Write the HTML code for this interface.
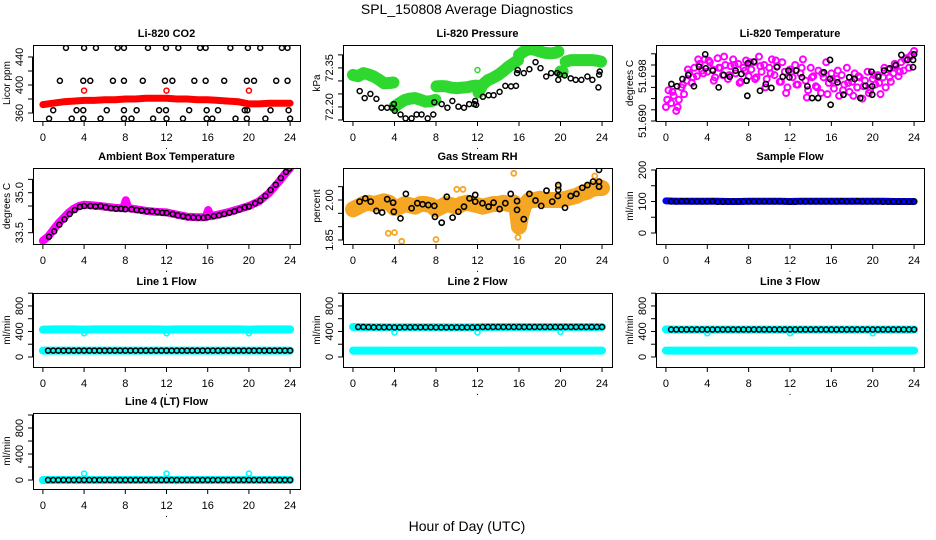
<!DOCTYPE html>
<html><head><meta charset="utf-8"><title>SPL_150808 Average Diagnostics</title>
<style>
html,body{margin:0;padding:0;background:#fff;}
svg{display:block;font-family:"Liberation Sans",Arial,sans-serif;}
</style></head>
<body>
<svg id="chart" width="936" height="540" viewBox="0 0 936 540" xmlns="http://www.w3.org/2000/svg">
<rect x="0" y="0" width="936" height="540" fill="#fff"/>
<text x="467" y="14" font-size="14" text-anchor="middle">SPL_150808  Average Diagnostics</text>
<text x="467" y="531" font-size="14" text-anchor="middle">Hour of Day (UTC)</text>
</svg>
<script>
// ---------- DATA ----------
const xTicks = [0,4,8,12,16,20,24];

// Li-820 CO2
const co2RedHours = [0,1,2,3,4,5,6,7,8,9,10,11,12,13,14,15,16,17,18,19,20,21,22,23,24];
const co2RedVals = [372,374,376,377,378,378,379,379,380,380,381,381,381,380,380,379,379,378,377,376,373,373,374,374,374];
const co2RedOutHours = [4,12,20];
const co2RedOutVals = [392,392,392];
const co2BlackHours = [2.24,4.0,5.15,7.26,7.87,10.2,11.95,13.15,15.26,15.8,18.2,19.9,21.1,23.2,23.75,
 1.65,3.92,4.6,6.8,7.87,9.7,11.85,12.57,14.7,15.8,17.6,19.8,20.5,22.65,23.75,
 1.0,3.27,3.92,6.2,7.87,9.1,11.28,11.95,14.2,15.9,17.0,19.6,19.85,22.1,23.85,
 0.6,2.8,3.92,5.6,7.87,8.6,10.7,12.0,13.6,15.9,16.45,18.7,19.8,21.6,24.0];
const co2BlackVals = [453,453,453,453,453,453,453,453,453,453,453,453,453,453,453,
 406,406,406,406,406,406,406,406,406,406,406,406,406,406,406,
 364,364,364,364,364,364,364,364,364,364,364,364,364,364,364,
 352,352,352,352,352,352,352,352,352,352,352,352,352,352,352];

// Li-820 Pressure
const presGreenHours = [0,0.5,1,1.5,2,2.5,3,3.5,3.9,null,4.0,4.5,5,5.5,6,6.5,7,7.5,7.95,null,8.05,8.5,9,9.5,10,10.5,11,11.5,11.9,null,12.1,12.5,13,13.5,14,14.5,15,15.5,15.9,null,16.0,16.5,17,17.5,18,18.5,19,19.5,19.8,null,20.0,20.2,null,20.5,21,21.5,22,22.5,23,23.5,23.9];
const presGreenVals = [72.323,72.318,72.330,72.325,72.317,72.305,72.291,72.292,72.294,null,72.201,72.215,72.227,72.232,72.234,72.228,72.220,72.222,72.227,null,72.279,72.280,72.279,72.274,72.272,72.274,72.276,72.280,72.282,null,72.256,72.286,72.303,72.312,72.323,72.338,72.355,72.368,72.380,null,72.400,72.414,72.423,72.420,72.413,72.408,72.406,72.408,72.413,null,72.336,72.336,null,72.374,72.380,72.380,72.380,72.380,72.380,72.378,72.374];
const presBlackHours = [0.65,1.13,1.68,2.26,2.74,3.29,3.78,3.94,4.03,4.58,5.07,5.65,6.13,6.61,7.2,7.74,7.84,8.55,9.1,9.58,10.16,10.7,11.2,11.68,11.78,11.87,12.52,13.07,13.55,14.13,14.68,15.23,15.71,15.81,15.88,16.46,17.0,17.59,18.07,18.62,19.1,19.68,19.78,19.91,20.4,20.98,21.46,22.01,22.59,23.07,23.65,23.72,23.78];
const presBlackVals = [72.261,72.234,72.250,72.231,72.197,72.197,72.197,72.211,72.185,72.171,72.156,72.156,72.171,72.171,72.156,72.171,72.218,72.211,72.197,72.223,72.201,72.197,72.211,72.211,72.223,72.208,72.239,72.245,72.245,72.258,72.281,72.279,72.281,72.330,72.342,72.330,72.345,72.372,72.349,72.317,72.330,72.330,72.304,72.324,72.321,72.310,72.304,72.304,72.317,72.304,72.275,72.324,72.336];

// Li-820 Temperature
const tempMagA = [51.6925,51.6955,51.6932,51.6945,51.6918,51.6938,51.6960,51.6948,51.6972,
 51.6985,51.6968,51.6995,51.6980,51.7002,51.6990,51.7010,51.6988,
 51.7005,51.6992,51.6978,51.7012,51.6995,51.6982,51.7000,51.6975,
 51.6998,51.7010,51.6985,51.7002,51.6970,51.6995,51.7008,51.6980,
 51.6992,51.7005,51.6978,51.7015,51.6988,51.7000,51.6975,51.6995,
 51.7010,51.6982,51.6998,51.6970,51.7005,51.6988,51.6960,51.6992,
 51.6978,51.7000,51.6965,51.6985,51.7010,51.6972,51.6955,51.6995,
 51.6980,51.6962,51.6990,51.6950,51.6978,51.7005,51.6968,51.6985,
 51.6958,51.6975,51.6945,51.6982,51.6965,51.6995,51.6952,51.6970,
 51.6985,51.6960,51.6978,51.6940,51.6972,51.6988,51.6955,51.6975,
 51.6965,51.6982,51.6948,51.6978,51.6960,51.6992,51.6970,51.6985,
 51.6998,51.6980,51.7005,51.6990,51.7012,51.6995,51.7018,51.7025];
const tempMagB = [51.6938,51.6952,51.6925,51.6965,51.6992,51.6978,51.7010,51.6985,51.7008,51.6972,51.6995,51.7015,51.6982,51.7000,51.6968,51.6990,51.7005,51.6975,51.6998,51.6960,51.6985,51.7008,51.6970,51.6950,51.6988,51.6965,51.6995,51.6942,51.6978,51.6960,51.6985,51.6948,51.6972,51.6990,51.6955,51.6968,51.6945,51.6980,51.6962,51.6950,51.6982,51.6968,51.6995,51.6978,51.7002,51.6988,51.7010,51.7015];
const tempBlackHours = [0.53,1.07,1.6,2.16,2.71,3.2,3.8,3.85,4.54,5.1,5.58,6.17,6.73,7.3,7.8,7.87,7.93,8.52,9.1,9.66,10.2,10.74,11.3,11.85,11.94,12.6,13.15,13.68,14.14,14.72,15.28,15.87,15.87,15.93,16.6,17.17,17.73,18.25,18.8,19.3,19.88,19.95,19.95,20.54,21.1,21.64,22.23,22.77,23.36,23.9,23.9,24.0];
const tempBlackVals = [51.6966,51.6962,51.6975,51.6982,51.6962,51.6997,51.7019,51.6994,51.6990,51.6960,51.6982,51.6979,51.6990,51.6984,51.6972,51.6945,51.7003,51.7006,51.6954,51.6966,51.6959,51.6996,51.6979,51.6990,51.6978,51.6990,51.6978,51.6962,51.6941,51.6941,51.6987,51.7009,51.6975,51.6929,51.6969,51.6947,51.6978,51.6975,51.6941,51.6963,51.6988,51.6962,51.6947,51.6979,51.6990,51.6994,51.7000,51.7018,51.7009,51.7009,51.6996,51.7019];

// Ambient Box Temperature
const ambMagHours = [0,0.5,1,1.5,2,2.5,3,3.5,4,5,6,7,7.8,8.05,8.3,9,10,11,12,13,14,15,15.8,16.05,16.3,17,18,19,20,21,22,23,23.5,24];
const ambMagVals = [33.2,33.35,33.6,33.85,34.05,34.25,34.4,34.5,34.55,34.52,34.48,34.43,34.42,34.72,34.42,34.38,34.32,34.28,34.26,34.18,34.1,34.08,34.08,34.35,34.12,34.18,34.27,34.38,34.5,34.68,35.0,35.45,35.7,35.92];
const ambBlackHours = [0.6,1.1,1.6,2.1,2.6,3.1,3.6,4.0,4.6,5.1,5.6,6.1,6.6,7.1,7.6,8.0,8.6,9.1,9.6,10.1,10.6,11.1,11.6,12.0,12.6,13.1,13.6,14.1,14.6,15.1,15.6,16.0,16.6,17.1,17.6,18.1,18.6,19.1,19.6,20.0,20.6,21.1,21.6,22.1,22.6,23.1,23.6,23.9];
const ambBlackVals = [33.35,33.55,33.8,34.0,34.2,34.35,34.47,34.5,34.5,34.48,34.5,34.45,34.42,34.4,34.4,34.38,34.38,34.35,34.33,34.3,34.3,34.28,34.25,34.24,34.2,34.15,34.12,34.08,34.07,34.06,34.06,34.08,34.12,34.15,34.2,34.25,34.3,34.37,34.45,34.48,34.6,34.7,34.88,35.1,35.3,35.55,35.78,35.9];

// Gas Stream RH
const rhOrangeHours = [0,0.5,1,1.5,2,2.5,3,3.5,4,4.5,5,5.5,6,6.5,7,7.5,8,8.5,9,9.5,10,10.5,11,11.5,12,12.5,13,13.5,14,14.5,15,15.5,15.8,16,16.2,16.5,17,17.5,18,18.5,19,19.5,20,20.5,21,21.5,22,22.5,23,23.5,24];
const rhOrangeVals = [1.965,1.975,1.985,1.99,1.985,1.99,1.995,1.99,1.97,1.975,1.985,1.98,1.975,1.985,1.985,1.98,1.965,1.975,1.985,1.98,1.975,1.985,1.99,1.985,1.98,1.975,1.98,1.985,1.985,1.99,1.985,1.99,1.96,1.9,1.94,1.98,2.0,2.0,2.005,2.0,2.0,2.0,2.0,2.005,2.01,2.015,2.025,2.03,2.04,2.045,2.045];
const rhOrangeOutHours = [3.4,4.0,4.7,8.0,10.0,10.6,15.5,15.9,19.8,23.3];
const rhOrangeOutVals = [1.875,1.878,1.845,1.852,2.04,2.04,2.1,1.86,2.05,2.09];
const rhBlackHours = [0.64,1.19,1.71,2.26,2.81,3.3,3.87,3.94,4.58,5.1,5.65,6.2,6.71,7.26,7.84,7.9,8.55,9.04,9.6,10.16,10.7,11.23,11.78,11.78,12.48,13.07,13.55,14.13,14.68,15.2,15.81,15.81,16.46,17.0,17.59,18.14,18.65,19.2,19.74,19.78,19.78,20.43,20.98,21.53,22.1,22.59,23.14,23.71,23.71,23.71];
const rhBlackVals = [1.994,2.006,1.994,1.959,1.953,2.003,1.99,1.956,1.931,2.023,1.969,1.988,1.984,1.981,1.978,1.937,1.915,2.012,1.934,1.956,1.975,2.006,2.019,1.994,1.988,1.975,1.99,1.966,1.988,2.023,1.996,1.963,1.928,2.023,1.998,1.978,2.035,1.994,2.015,2.038,2.056,1.971,2.015,2.023,2.046,2.056,2.069,2.069,2.113,2.05];

// Flows
const lineHours = [0,1,2,3,4,5,6,7,8,9,10,11,12,13,14,15,16,17,18,19,20,21,22,23,24];
const sampleBlue = [102,101,101,101,101,101,100,100,101,101,101,101,100,101,101,101,101,101,101,101,101,101,100,100,100];
const sampleBlack = [100,100,101,101,100,100,100,100,101,99,99,100,100,100,100,100,100,100,100,100,100,100,100,99,99,100,100,100,100,100,100,100,100,101,100,100,101,100,100,100,100,99,99,100,99,100,99,100];
const l1CyanHigh = [430,432,432,432,430,432,432,432,432,432,432,432,430,432,432,432,432,432,432,432,430,432,432,432,432];
const l1CyanLow = [100,100,100,100,100,100,100,100,100,100,100,100,100,100,100,100,100,100,100,100,100,100,100,100,100];
const l1Black = [100,100,100,100,100,100,100,100,100,100,100,100,100,100,100,100,100,100,100,100,100,100,100,100,100,100,100,100,100,100,100,100,100,100,100,100,100,100,100,100,100,100,100,100,100,100,100,100];
const l1DipHours = [4,12,20];
const l1DipVals = [372,372,372];
const l2CyanHigh = [470,468,466,466,464,466,466,466,466,464,464,464,466,470,470,470,470,470,470,470,470,470,470,470,470];
const l2CyanLow = [100,100,100,100,100,100,100,100,100,100,100,100,100,100,100,100,100,100,100,100,100,100,100,100,100];
const l2Black = [470,470,468,466,466,466,466,464,464,466,466,466,466,466,466,464,464,464,464,464,464,464,464,466,470,470,470,470,470,470,470,470,470,470,470,470,470,470,470,470,470,470,470,470,470,470,470,470];
const l2DipHours = [4,12,20];
const l2DipVals = [385,385,392];
const l3CyanHigh = [432,430,430,430,430,430,430,430,430,430,430,430,430,430,430,430,430,430,430,430,430,430,430,430,430];
const l3CyanLow = [100,100,100,100,100,100,100,100,100,100,100,100,100,100,100,100,100,100,100,100,100,100,100,100,100];
const l3Black = [430,430,430,430,430,430,430,430,430,430,430,430,430,430,430,430,430,430,430,430,430,430,430,430,430,430,430,430,430,430,430,430,430,430,430,430,430,430,430,430,430,430,430,430,430,430,430,430];
const l3DipHours = [4,12,20];
const l3DipVals = [372,372,372];
const l4Cyan = [0,0,0,0,0,0,0,0,0,0,0,0,0,0,0,0,0,0,0,0,0,0,0,0,0];
const l4Black = [0,0,0,0,0,0,0,0,0,0,0,0,0,0,0,0,0,0,0,0,0,0,0,0,0,0,0,0,0,0,0,0,0,0,0,0,0,0,0,0,0,0,0,0,0,0,0,0];
const l4DipHours = [4,12,20];
const l4DipVals = [100,100,100];

// Y-axis ticks and labels
const co2Ticks = [360,380,400,420,440], co2Labels = ["360","","400","","440"];
const presTicks = [72.15,72.20,72.25,72.30,72.35,72.40], presLabels = ["","72.20","","","72.35",""];
const tempTicks = [51.690,51.692,51.694,51.696,51.698,51.700,51.702], tempLabels = ["51.690","","","","51.698","",""];
const ambTicks = [33.5,34.0,34.5,35.0,35.5], ambLabels = ["33.5","","","35.0",""];
const rhTicks = [1.85,1.90,1.95,2.00,2.05], rhLabels = ["1.85","","","2.00",""];
const sampleTicks = [0,50,100,150,200], sampleLabels = ["0","","100","","200"];
const flowTicks = [0,200,400,600,800,1000], flowLabels = ["0","","400","","800",""];

// ---------- DRAWING ----------
const NS = "http://www.w3.org/2000/svg";
const svg = document.getElementById("chart");
function el(tag, attrs, parent) {
  const e = document.createElementNS(NS, tag);
  for (const k in attrs) e.setAttribute(k, attrs[k]);
  (parent || svg).appendChild(e);
  return e;
}
const cols = [[33,300],[343,612],[656,924]];
const rows = [[45,121],[168,244],[293,367],[413,489]];

function makePanel(name, title, ylab, c, r, yLo, yHi, ticks, labels) {
  const [L, R] = cols[c], [T, B] = rows[r];
  const g = el("g", {});
  
  
  const pad = (R - L) * 0.04 / 1.08;
  const sx = h => L + pad + (h / 24) * (R - L - 2 * pad);
  const sy = v => B - (v - yLo) / (yHi - yLo) * (B - T);
  const t = el("text", {x: (L + R) / 2, y: T - 8, "font-size": 11, "font-weight": "bold", "text-anchor": "middle"}, g);
  t.textContent = title;
  
  
  const xa = el("g", {stroke: "#000", "stroke-width": 1}, g);
  
  
  el("line", {x1: sx(0), x2: sx(24), y1: B + 0.5, y2: B + 0.5}, xa);
  xTicks.forEach(h => {
    el("line", {x1: sx(h), x2: sx(h), y1: B, y2: B + 5}, xa);
    const tl = el("text", {x: sx(h), y: B + 20, "font-size": 11, "text-anchor": "middle", stroke: "none"}, g);
    tl.textContent = String(h);
    
    
  });
  const dot = el("text", {x: (L + R) / 2, y: B + 28, "font-size": 10, "text-anchor": "middle"}, g);
  dot.textContent = ".";
  const ya = el("g", {stroke: "#000", "stroke-width": 1}, g);
  
  
  el("line", {x1: L - 0.5, x2: L - 0.5, y1: sy(ticks[0]), y2: sy(ticks[ticks.length - 1])}, ya);
  ticks.forEach((v, i) => {
    el("line", {x1: L - 5, x2: L, y1: sy(v), y2: sy(v)}, ya);
    if (labels[i]) {
      const yl = el("text", {x: 0, y: 0, "font-size": 11, "text-anchor": "middle", stroke: "none",
        transform: `translate(${L - 10},${sy(v)}) rotate(-90)`}, g);
      yl.textContent = labels[i];
      
      
    }
  });
  const yt = el("text", {x: 0, y: 0, "font-size": 10, "text-anchor": "middle",
    transform: `translate(${L - 23},${(T + B) / 2}) rotate(-90)`}, g);
  yt.textContent = ylab;
  
  
  const cid = "clip-" + name;
  const cp = el("clipPath", {id: cid}, g);
  el("rect", {x: L, y: T, width: R - L, height: B - T}, cp);
  const plot = el("g", {"clip-path": `url(#${cid})`}, g);
  const box = el("rect", {x: L + 0.5, y: T + 0.5, width: R - L, height: B - T, fill: "none", stroke: "#000", "stroke-width": 1}, g);
  
  
  return {sx, sy, plot};
}
function band(p, name, hours, vals, color, w) {
  let d = "", pen = false;
  for (let i = 0; i < hours.length; i++) {
    if (hours[i] === null || vals[i] === null) { pen = false; continue; }
    d += (pen ? "L" : "M") + p.sx(hours[i]).toFixed(1) + "," + p.sy(vals[i]).toFixed(1);
    pen = true;
  }
  const path = el("path", {d, fill: "none", stroke: color, "stroke-width": w, "stroke-linecap": "round", "stroke-linejoin": "round"}, p.plot);
  
  
}
function points(p, name, hours, vals, color, r, sw) {
  const g = el("g", {fill: "none", stroke: color, "stroke-width": sw}, p.plot);
  
  
  for (let i = 0; i < vals.length; i++) {
    const c = el("circle", {cx: p.sx(hours[i]), cy: p.sy(vals[i]), r: r}, g);
    
    
  }
}
const halfHours = l1Black.map((_, i) => 0.5 * (i + 1));
const magAHours = tempMagA.map((_, i) => 0.25 * i);
const magBHours = tempMagB.map((_, i) => 0.5 * i + 0.125);

let p = makePanel("co2", "Li-820 CO2", "Licor ppm", 0, 0, 348.6, 457.1, co2Ticks, co2Labels);
band(p, "co2-red-series", co2RedHours, co2RedVals, "#ff0000", 7);
points(p, "co2-red-outliers", co2RedOutHours, co2RedOutVals, "#ff0000", 2.5, 1.5);
points(p, "co2-black-series", co2BlackHours, co2BlackVals, "#000", 2.5, 1.5);

p = makePanel("pressure", "Li-820 Pressure", "kPa", 1, 0, 72.146, 72.438, presTicks, presLabels);
band(p, "pressure-green-series", presGreenHours, presGreenVals, "#2fd82f", 12);
points(p, "pressure-green-outlier", [12.0], [72.342], "#2fd82f", 2.5, 1.5);
points(p, "pressure-black-series", presBlackHours, presBlackVals, "#000", 2.5, 1.5);

p = makePanel("li820-temp", "Li-820 Temperature", "degrees C", 2, 0, 51.690, 51.70357, tempTicks, tempLabels);
points(p, "li820-temp-magenta-a", magAHours, tempMagA, "#ff00ff", 3, 2);
points(p, "li820-temp-magenta-b", magBHours, tempMagB, "#ff00ff", 3, 2);
points(p, "li820-temp-black-series", tempBlackHours, tempBlackVals, "#000", 2.6, 1.6);

p = makePanel("ambient", "Ambient Box Temperature", "degrees C", 0, 1, 33.076, 35.926, ambTicks, ambLabels);
band(p, "ambient-magenta-series", ambMagHours, ambMagVals, "#ff00ff", 8);
points(p, "ambient-black-series", ambBlackHours, ambBlackVals, "#000", 2.5, 1.5);

p = makePanel("rh", "Gas Stream RH", "percent", 1, 1, 1.835, 2.12, rhTicks, rhLabels);
band(p, "rh-orange-series", rhOrangeHours, rhOrangeVals, "#f5a623", 16);
points(p, "rh-orange-outliers", rhOrangeOutHours, rhOrangeOutVals, "#f5a623", 2.5, 1.8);
points(p, "rh-black-series", rhBlackHours, rhBlackVals, "#000", 2.6, 1.6);

p = makePanel("sample-flow", "Sample Flow", "ml/min", 2, 1, -34.9, 206.3, sampleTicks, sampleLabels);
band(p, "sample-flow-blue-series", lineHours, sampleBlue, "#0000ff", 7);
points(p, "sample-flow-black-series", halfHours, sampleBlack, "#000", 2.5, 1.5);

p = makePanel("line1-flow", "Line 1 Flow", "ml/min", 0, 2, -157, 1003, flowTicks, flowLabels);
band(p, "line1-cyan-high", lineHours, l1CyanHigh, "#00ffff", 8);
band(p, "line1-cyan-low", lineHours, l1CyanLow, "#00ffff", 8);
points(p, "line1-cyan-dips", l1DipHours, l1DipVals, "#00ffff", 2.5, 1.6);
points(p, "line1-black-series", halfHours, l1Black, "#000", 2.5, 1.5);

p = makePanel("line2-flow", "Line 2 Flow", "ml/min", 1, 2, -157, 1003, flowTicks, flowLabels);
band(p, "line2-cyan-high", lineHours, l2CyanHigh, "#00ffff", 8);
band(p, "line2-cyan-low", lineHours, l2CyanLow, "#00ffff", 8);
points(p, "line2-cyan-dips", l2DipHours, l2DipVals, "#00ffff", 2.5, 1.6);
points(p, "line2-black-series", halfHours, l2Black, "#000", 2.5, 1.5);

p = makePanel("line3-flow", "Line 3 Flow", "ml/min", 2, 2, -157, 1003, flowTicks, flowLabels);
band(p, "line3-cyan-high", lineHours, l3CyanHigh, "#00ffff", 8);
band(p, "line3-cyan-low", lineHours, l3CyanLow, "#00ffff", 8);
points(p, "line3-cyan-dips", l3DipHours, l3DipVals, "#00ffff", 2.5, 1.6);
points(p, "line3-black-series", halfHours, l3Black, "#000", 2.5, 1.5);

p = makePanel("line4-flow", "Line 4 (LT) Flow", "ml/min", 0, 3, -138, 1031, flowTicks, flowLabels);
band(p, "line4-cyan-series", lineHours, l4Cyan, "#00ffff", 8);
points(p, "line4-cyan-outliers", l4DipHours, l4DipVals, "#00ffff", 2.5, 1.6);
points(p, "line4-black-series", halfHours, l4Black, "#000", 2.5, 1.5);
</script>
</body></html>
